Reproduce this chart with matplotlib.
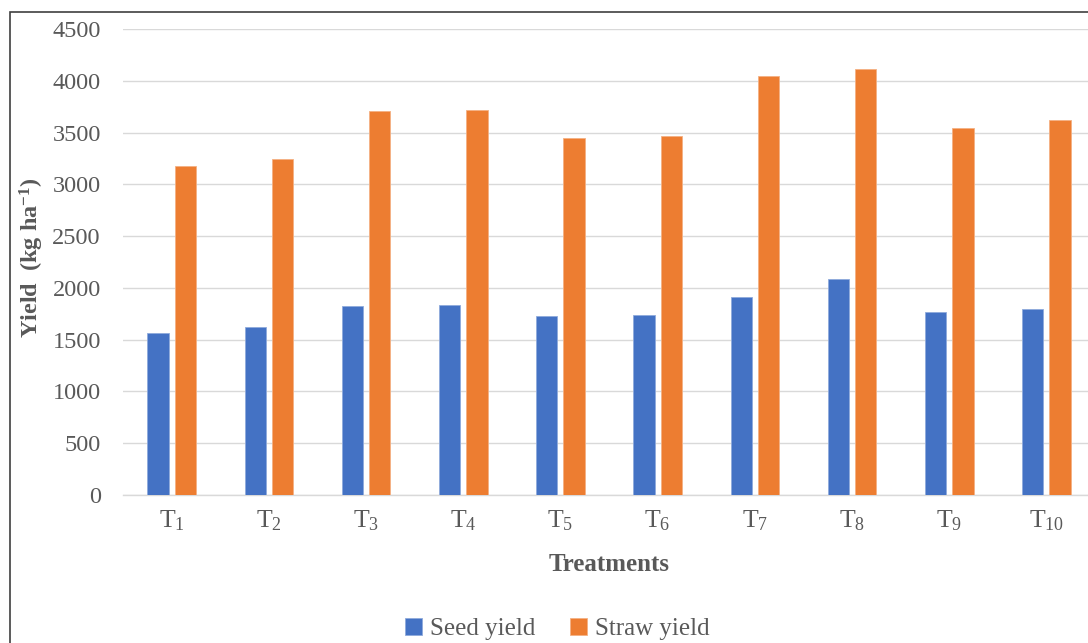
import matplotlib.pyplot as plt
import numpy as np
from matplotlib.patches import Rectangle

plt.rcParams["font.family"] = ["Liberation Serif", "DejaVu Serif"]
plt.rcParams["mathtext.fontset"] = "custom"
plt.rcParams["mathtext.rm"] = "Liberation Serif"
plt.rcParams["mathtext.it"] = "Liberation Serif:italic"
plt.rcParams["mathtext.bf"] = "Liberation Serif:bold"

treatments = [f"$\\mathrm{{T}}_{{{i}}}$" for i in range(1, 11)]
seed_yield = [1560, 1620, 1825, 1838, 1725, 1735, 1910, 2087, 1770, 1795]
straw_yield = [3178, 3248, 3710, 3722, 3445, 3467, 4042, 4110, 3540, 3620]

GRAY = "#595959"
BLUE = "#4472C4"
ORANGE = "#ED7D31"

fig = plt.figure(figsize=(10.88, 6.43), dpi=100)
ax = fig.add_axes([123 / 1088, 148 / 643, 972 / 1088, 466 / 643])

x = np.arange(1, len(treatments) + 1)
w = 0.22
ax.bar(x - 0.14, seed_yield, w, color=BLUE, label="Seed yield",
       edgecolor="#8faadc", linewidth=0.6, zorder=3)
ax.bar(x + 0.14, straw_yield, w, color=ORANGE, label="Straw yield",
       edgecolor="#f4b183", linewidth=0.6, zorder=3)

ax.set_xlim(0.5, 10.5)
ax.set_ylim(0, 4500)
ax.set_yticks(range(0, 4501, 500))
ax.set_xticks(x)
ax.set_xticklabels(treatments)
ax.tick_params(axis="y", length=0, labelsize=17.5, labelcolor=GRAY, pad=16)
ax.tick_params(axis="x", length=0, labelsize=18.5, labelcolor=GRAY, pad=10)
ax.yaxis.grid(True, color="#d9d9d9", linewidth=1, zorder=0)
ax.set_axisbelow(True)
for side in ("top", "right", "left"):
    ax.spines[side].set_visible(False)
ax.spines["bottom"].set_color("#d9d9d9")
ax.spines["bottom"].set_linewidth(1)

ax.set_xlabel("Treatments", fontsize=18, fontweight="bold", color=GRAY, labelpad=14)
fig.text(32 / 1088, 1 - 258 / 643, "Yield  (kg ha$^{\\mathbf{-1}}$)", rotation=90,
         fontsize=17.5, fontweight="bold", color=GRAY, ha="center", va="center")

fig.legend(loc="center", bbox_to_anchor=(557 / 1088, 1 - 629 / 643), ncol=2,
           frameon=False, fontsize=18, labelcolor=GRAY, handlelength=0.7,
           handleheight=0.7, handletextpad=0.3, columnspacing=1.4)

# outer chart border
fig.add_artist(Rectangle((10 / 1088, -0.1), 1.2, 1.1 - 12 / 643,
                         transform=fig.transFigure, fill=False,
                         edgecolor="#404040", linewidth=1.2))

fig.savefig("out.png", dpi=100)
